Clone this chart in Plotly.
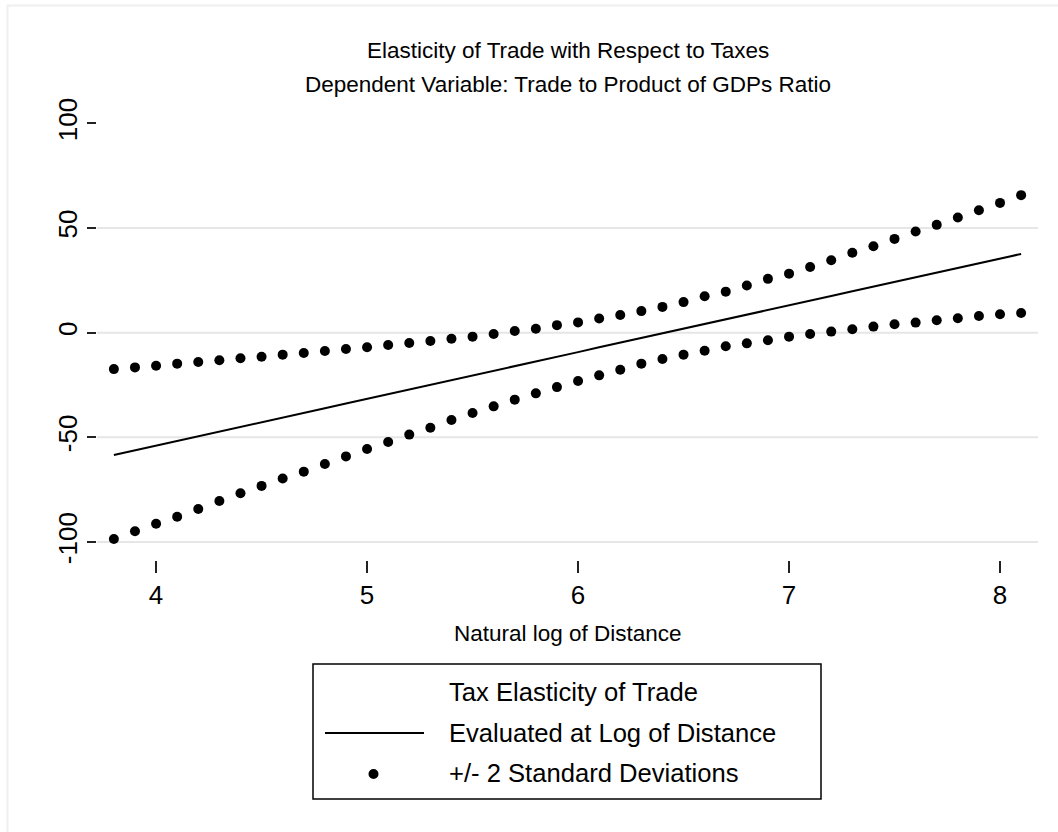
import plotly.graph_objects as go

# Natural log of distance grid
log_distance = [3.8, 3.9, 4.0, 4.1, 4.2, 4.3, 4.4, 4.5, 4.6, 4.7, 4.8,
                4.9, 5.0, 5.1, 5.2, 5.3, 5.4, 5.5, 5.6, 5.7, 5.8, 5.9,
                6.0, 6.1, 6.2, 6.3, 6.4, 6.5, 6.6, 6.7, 6.8, 6.9, 7.0,
                7.1, 7.2, 7.3, 7.4, 7.5, 7.6, 7.7, 7.8, 7.9, 8.0, 8.1]

# Tax elasticity of trade evaluated at log of distance
elasticity = [-58.4, -56.2, -53.9, -51.7, -49.5, -47.2, -45.0, -42.8, -40.5, -38.3, -36.1,
              -33.8, -31.6, -29.4, -27.1, -24.9, -22.7, -20.4, -18.2, -16.0, -13.7, -11.5,
              -9.3, -7.0, -4.8, -2.6, -0.3, 1.9, 4.1, 6.4, 8.6, 10.8, 13.1,
              15.3, 17.5, 19.8, 22.0, 24.2, 26.5, 28.7, 30.9, 33.2, 35.4, 37.6]

# +2 standard deviations
upper_band = [-17.4, -16.6, -15.8, -14.8, -14.0, -13.2, -12.2, -11.5, -10.5, -9.7, -8.8,
              -7.8, -7.0, -5.9, -4.9, -4.0, -2.9, -1.9, -0.6, 0.8, 1.9, 3.6,
              4.9, 6.8, 8.4, 10.3, 12.3, 14.6, 17.4, 19.6, 22.5, 25.7, 28.2,
              31.4, 34.6, 38.2, 41.3, 44.8, 48.3, 51.5, 55.0, 58.5, 62.0, 65.7]

# -2 standard deviations
lower_band = [-98.6, -94.9, -91.3, -87.9, -84.2, -80.4, -76.7, -73.2, -69.7, -66.4, -62.7,
              -59.1, -55.6, -52.2, -48.7, -45.4, -41.7, -38.4, -35.2, -32.0, -29.0, -26.0,
              -23.1, -20.4, -17.7, -14.8, -12.6, -10.5, -8.6, -6.5, -5.1, -3.6, -1.9,
              -0.6, 0.5, 1.6, 2.9, 4.0, 4.8, 5.9, 6.9, 8.0, 8.8, 9.4]

x_ticks = [4, 5, 6, 7, 8]
y_ticks = [-100, -50, 0, 50, 100]
y_grid = [-100, -50, 0, 50]

title_lines = ["Elasticity of Trade with Respect to Taxes",
               "Dependent Variable: Trade to Product of GDPs Ratio"]
x_title = "Natural log of Distance"
legend_lines = ["Tax Elasticity of Trade",
                "Evaluated at Log of Distance",
                "+/- 2 Standard Deviations"]

FONT = "Liberation Sans, Arial, sans-serif"
W, H = 1058, 832
ML, MR, MT, MB = 97, 20, 107, 272
PW, PH = W - ML - MR, H - MT - MB


def px(x):
    """Pixel column -> paper x."""
    return (x - ML) / PW


def py(y):
    """Pixel row -> paper y."""
    return (H - MB - y) / PH


fig = go.Figure()

fig.add_trace(go.Scatter(
    x=log_distance, y=upper_band, mode="markers",
    marker=dict(color="black", size=10), hoverinfo="skip", showlegend=False))
fig.add_trace(go.Scatter(
    x=log_distance, y=lower_band, mode="markers",
    marker=dict(color="black", size=10), hoverinfo="skip", showlegend=False))
fig.add_trace(go.Scatter(
    x=log_distance, y=elasticity, mode="lines",
    line=dict(color="black", width=2), hoverinfo="skip", showlegend=False))

shapes = []
# horizontal grid lines
for g in y_grid:
    shapes.append(dict(type="line", xref="paper", yref="y", x0=0, x1=1, y0=g, y1=g,
                       line=dict(color="#e6e6e6", width=2), layer="below"))
# faint outer frame edges (top and left)
shapes.append(dict(type="line", xref="paper", yref="paper",
                   x0=px(7), x1=px(1058), y0=py(5.5), y1=py(5.5),
                   line=dict(color="#efefef", width=2), layer="below"))
shapes.append(dict(type="line", xref="paper", yref="paper",
                   x0=px(7.5), x1=px(7.5), y0=py(5), y1=py(832),
                   line=dict(color="#efefef", width=2), layer="below"))
# legend box
shapes.append(dict(type="rect", xref="paper", yref="paper",
                   x0=px(313), x1=px(821), y0=py(664), y1=py(799),
                   line=dict(color="black", width=1.5)))
# legend key: line
shapes.append(dict(type="line", xref="paper", yref="paper",
                   x0=px(325), x1=px(424), y0=py(733), y1=py(733),
                   line=dict(color="black", width=2)))
# legend key: dot
shapes.append(dict(type="circle", xref="paper", yref="paper",
                   x0=px(368.5), x1=px(378.5), y0=py(769), y1=py(779),
                   fillcolor="black", line=dict(color="black", width=0)))

annotations = []
for txt, yc in zip(title_lines, [50, 85]):
    annotations.append(dict(text=txt, xref="paper", yref="paper", x=px(568), y=py(yc),
                            xanchor="center", yanchor="middle", showarrow=False,
                            font=dict(family=FONT, size=22.5, color="black")))
annotations.append(dict(text=x_title, xref="paper", yref="paper", x=px(568), y=py(633),
                        xanchor="center", yanchor="middle", showarrow=False,
                        font=dict(family=FONT, size=22.5, color="black")))
for txt, yc in zip(legend_lines, [692, 733, 773]):
    annotations.append(dict(text=txt, xref="paper", yref="paper", x=px(447), y=py(yc),
                            xanchor="left", yanchor="middle", showarrow=False,
                            font=dict(family=FONT, size=25.6, color="black")))

fig.update_layout(
    width=W, height=H,
    margin=dict(l=ML, r=MR, t=MT, b=MB, pad=0),
    paper_bgcolor="white", plot_bgcolor="white",
    font=dict(family=FONT, color="black"),
    shapes=shapes, annotations=annotations,
    xaxis=dict(range=[3.720, 8.180], tickvals=x_ticks, ticktext=[str(v) for v in x_ticks],
               showgrid=False, zeroline=False, showline=False,
               ticks="outside", ticklen=12, tickwidth=1.5, tickcolor="#222222",
               tickfont=dict(family=FONT, size=26, color="black")),
    yaxis=dict(range=[-108.6, 107.8], tickvals=y_ticks, ticktext=[str(v) for v in y_ticks],
               showgrid=False, zeroline=False, showline=False,
               ticks="outside", ticklen=9, tickwidth=1.5, tickcolor="#222222",
               tickangle=-90,
               tickfont=dict(family=FONT, size=26, color="black")),
)

fig.write_html("out.html")
